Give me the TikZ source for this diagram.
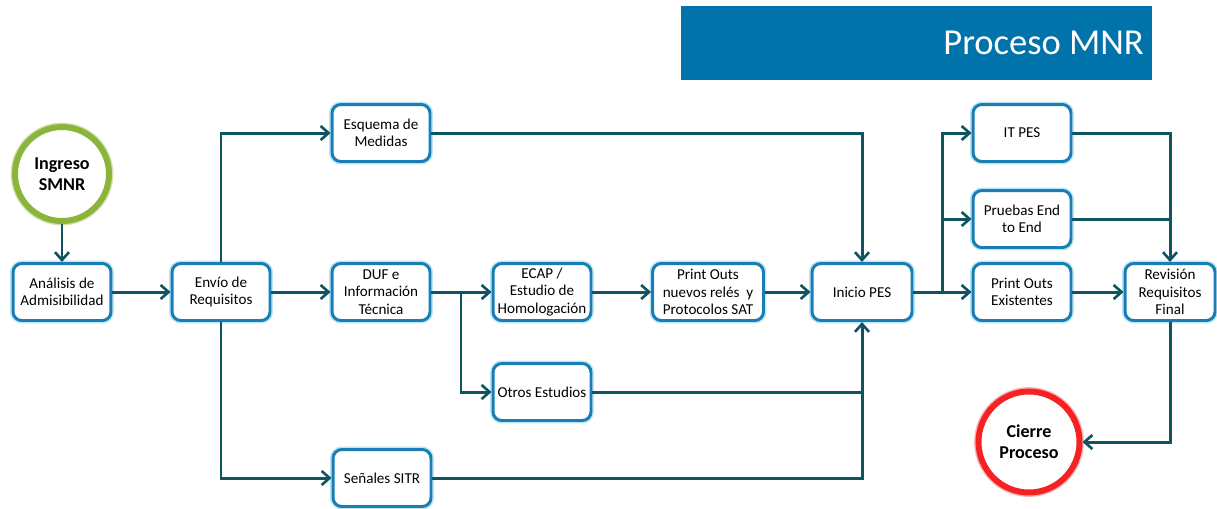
\documentclass[tikz,border=0pt]{standalone}
\usepackage{fontspec}
\setmainfont{Carlito}
\usetikzlibrary{arrows.meta}
\definecolor{conn}{HTML}{0E5461}
\definecolor{boxblue}{HTML}{1A7DB3}
\definecolor{glow}{HTML}{9FDCF5}
\definecolor{titleblue}{HTML}{0073AA}
\definecolor{startgreen}{HTML}{8BB43A}
\definecolor{endred}{HTML}{F42222}

\begin{document}
\begin{tikzpicture}[
	x=0.02cm, y=-0.02cm,
	stepbox/.style={draw=boxblue, line width=1.7pt, rounded corners=5pt, fill=white,
		minimum width=1.96cm, minimum height=1.14cm, align=center, inner sep=1pt,
		font=\fontsize{8.6}{9.8}\selectfont,
		preaction={draw=glow, line width=3.4pt, opacity=.7}},
	endpoint/.style={circle, line width=3.4pt, fill=white, align=center,
		font=\bfseries\fontsize{10.3}{12}\selectfont},
	line/.style={draw=conn, line width=1.7pt},
	arr/.style={line, -{Straight Barb[length=4.5pt,width=8pt,line width=1.5pt]}}]
\useasboundingbox (0,0) rectangle (1217,508);
% title bar
\node[fill=titleblue, minimum width=9.42cm, minimum height=1.48cm, inner sep=0] (title) at (916.5,43) {};
\node[anchor=east, text=white, font=\fontsize{20.8}{24}\selectfont] (titletext) at (1150,43) {Proceso MNR};
% start and end
\node[endpoint, draw=startgreen, minimum size=1.88cm,
	preaction={draw=startgreen!40, line width=5pt}] (ingreso) at (62,174) {Ingreso\\SMNR};
\node[endpoint, draw=endred, minimum size=2.02cm,
	preaction={draw=endred!35, line width=5pt}] (cierre) at (1029,442) {Cierre\\Proceso};
% steps
\node[stepbox] (analisis) at (62,292) {Análisis de\\Admisibilidad};
\node[stepbox] (envio) at (221,292) {Envío de\\Requisitos};
\node[stepbox] (esquema) at (381,133) {Esquema de\\Medidas};
\node[stepbox] (duf) at (381,292) {DUF e\\Información\\Técnica};
\node[stepbox] (senales) at (382,478) {Señales SITR};
\node[stepbox] (ecap) at (542,292) {ECAP /\\Estudio de\\Homologación};
\node[stepbox] (otros) at (542,392) {Otros Estudios};
\node[stepbox, minimum width=2.22cm] (ponuevos) at (708,292) {Print Outs\\nuevos relés\ \ y\\Protocolos SAT};
\node[stepbox, minimum width=2cm] (inicio) at (862,292) {Inicio PES};
\node[stepbox] (itpes) at (1022,133) {IT PES};
\node[stepbox] (pruebas) at (1022,219) {Pruebas End\\to End};
\node[stepbox] (poexist) at (1022,292) {Print Outs\\Existentes};
\node[stepbox, minimum width=1.8cm] (revision) at (1170,292) {Revisión\\Requisitos\\Final};
% branch points
\coordinate (b1) at (461,292);
\coordinate (b2) at (942,292);
% connectors
\draw[arr] (ingreso) -- (analisis);
\draw[arr] (analisis) -- (envio);
\draw[arr] (envio) -- (duf);
\draw[arr] (envio.north) |- (esquema.west);
\draw[arr] (envio.south) |- (senales.west);
\draw[arr] (esquema.east) -| (inicio.north);
\draw[arr] (duf) -- (ecap);
\draw[arr] (b1) |- (otros.west);
\draw[arr] (ecap) -- (ponuevos);
\draw[arr] (ponuevos) -- (inicio);
\draw[line] (otros.east) -- (otros.east -| inicio.south);
\draw[arr] (senales.east) -| (inicio.south);
\draw[line] (inicio.east) -- (b2);
\draw[arr] (b2) |- (itpes.west);
\draw[arr] (b2) |- (pruebas.west);
\draw[arr] (b2) -- (poexist.west);
\draw[arr] (itpes.east) -| (revision.north);
\draw[line] (pruebas.east) -- (pruebas.east -| revision.north);
\draw[arr] (poexist) -- (revision);
\draw[arr] (revision.south) |- (cierre.east);
\end{tikzpicture}
\end{document}
